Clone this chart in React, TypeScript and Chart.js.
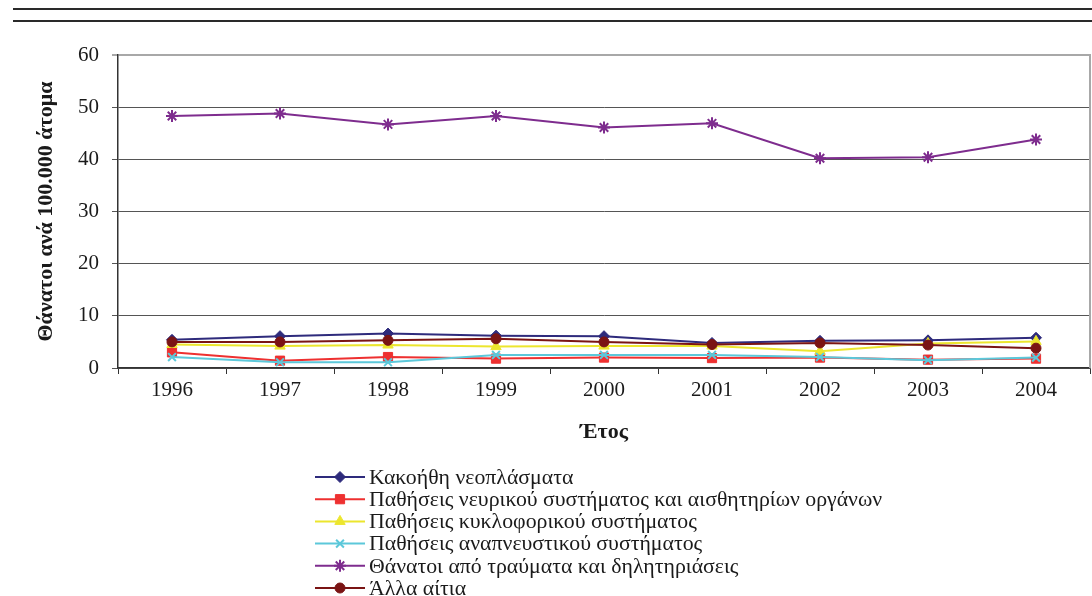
import React, { useEffect, useRef } from "react";
import { Chart, registerables } from "chart.js";
import { drawPoint } from "chart.js/helpers";

Chart.register(...registerables);

const years = ["1996", "1997", "1998", "1999", "2000", "2001", "2002", "2003", "2004"];
const neoplasms = [5.4, 6.1, 6.6, 6.2, 6.1, 4.8, 5.2, 5.3, 5.8];
const nervous = [3.0, 1.4, 2.1, 1.8, 2.0, 1.9, 2.0, 1.6, 1.8];
const circulatory = [4.5, 4.2, 4.4, 4.1, 4.2, 4.2, 3.2, 4.7, 5.1];
const respiratory = [2.1, 1.1, 1.1, 2.5, 2.5, 2.5, 2.1, 1.5, 2.0];
const injuries = [48.3, 48.8, 46.7, 48.3, 46.1, 46.9, 40.2, 40.4, 43.8];
const otherCauses = [5.0, 5.0, 5.3, 5.6, 5.0, 4.5, 4.8, 4.4, 3.8];

const seriesLabels = [
  "Κακοήθη νεοπλάσματα",
  "Παθήσεις νευρικού συστήματος και αισθητηρίων οργάνων",
  "Παθήσεις κυκλοφορικού συστήματος",
  "Παθήσεις αναπνευστικού συστήματος",
  "Θάνατοι από τραύματα και δηλητηριάσεις",
  "Άλλα αίτια",
];
const seriesData = [neoplasms, nervous, circulatory, respiratory, injuries, otherCauses];
const seriesColors = ["#2e2b7c", "#ee3030", "#ece62e", "#5cc8da", "#7e2c8e", "#7a1414"];
const seriesStyles = ["rectRot", "rect", "triangle", "crossRot", "star", "circle"];
const seriesRadius = [5.5, 6.5, 6, 5.5, 6, 5];

const yTitle = "Θάνατοι ανά 100.000 άτομα";
const xTitle = "Έτος";

const FONT = "'Liberation Serif', 'Times New Roman', serif";

const isStroke = (s: string) => s.startsWith("cross") || s === "star";

export default function App() {
  const ref = useRef<HTMLCanvasElement | null>(null);

  useEffect(() => {
    if (!ref.current) return;
    const overlay = {
      id: "overlay",
      afterDraw(chart: any) {
        const ctx = chart.ctx;
        const ca = chart.chartArea;
        ctx.save();
        // right border
        ctx.strokeStyle = "#a8a8a8";
        ctx.lineWidth = 2;
        ctx.beginPath();
        ctx.moveTo(ca.right, ca.top - 1);
        ctx.lineTo(ca.right, ca.bottom);
        ctx.stroke();
        // y title
        ctx.fillStyle = "#1a1a1a";
        ctx.font = `bold 22px ${FONT}`;
        ctx.textAlign = "center";
        ctx.textBaseline = "middle";
        ctx.save();
        ctx.translate(46, (ca.top + ca.bottom) / 2);
        ctx.rotate(-Math.PI / 2);
        ctx.fillText(yTitle, 0, 0);
        ctx.restore();
        // x title
        ctx.fillText(xTitle, (ca.left + ca.right) / 2, 432);
        // legend
        ctx.textAlign = "left";
        for (let i = 0; i < seriesLabels.length; i++) {
          const y = 477 + 22.2 * i;
          ctx.strokeStyle = seriesColors[i];
          ctx.lineWidth = 2;
          ctx.beginPath();
          ctx.moveTo(315, y);
          ctx.lineTo(365, y);
          ctx.stroke();
          ctx.fillStyle = seriesColors[i];
          ctx.strokeStyle = seriesColors[i];
          ctx.lineWidth = isStroke(seriesStyles[i]) ? 2 : 1;
          drawPoint(ctx, { pointStyle: seriesStyles[i], radius: seriesRadius[i], rotation: 0, borderWidth: ctx.lineWidth } as any, 340, y);
          ctx.fillStyle = "#1a1a1a";
          ctx.font = `21.8px ${FONT}`;
          ctx.textBaseline = "middle";
          ctx.fillText(seriesLabels[i], 369, y + 1);
        }
        ctx.restore();
      },
    };

    const chart = new Chart(ref.current, {
      type: "line",
      data: {
        labels: years,
        datasets: seriesData.map((d, i) => ({
          label: seriesLabels[i],
          data: d,
          borderColor: seriesColors[i],
          backgroundColor: seriesColors[i],
          pointBackgroundColor: seriesColors[i],
          pointBorderColor: seriesColors[i],
          pointStyle: seriesStyles[i] as any,
          pointRadius: seriesRadius[i],
          pointBorderWidth: isStroke(seriesStyles[i]) ? 2 : 1,
          borderWidth: 2,
          tension: 0,
          fill: false,
          order: seriesLabels.length - i,
        })),
      },
      options: {
        animation: false,
        responsive: false,
        devicePixelRatio: 1,
        layout: { padding: { top: 55, right: 2, left: 0, bottom: 0 } },
        plugins: { legend: { display: false }, tooltip: { enabled: false } },
        scales: {
          x: {
            type: "category",
            offset: true,
            grid: { drawOnChartArea: false, offset: true, tickLength: 6, color: "#333" },
            border: { color: "#333", width: 1.5 },
            ticks: { font: { family: FONT, size: 21 }, color: "#1a1a1a", padding: 4 },
            afterFit: (s: any) => {
              s.height = 596 - 368;
              s.paddingLeft = 0;
              s.paddingRight = 0;
            },
          },
          y: {
            min: 0,
            max: 60,
            ticks: { stepSize: 10, font: { family: FONT, size: 21 }, color: "#1a1a1a", padding: 13 },
            grid: {
              tickLength: 6,
              color: (c: any) => (c.tick && c.tick.value === 60 ? "#a8a8a8" : "#555"),
              lineWidth: (c: any) => (c.tick && c.tick.value === 60 ? 2 : 1),
            },
            border: { color: "#333", width: 1.5 },
            afterFit: (s: any) => {
              s.width = 118;
              s.paddingTop = 0;
              s.paddingBottom = 0;
            },
          },
        },
      },
      plugins: [overlay],
    });
    return () => chart.destroy();
  }, []);

  return (
    <div style={{ position: "absolute", left: 0, top: 0, width: 1092, height: 596, background: "#fff", overflow: "hidden" }}>
      <div style={{ position: "absolute", left: 13, right: 0, top: 8, height: 2, background: "#2a2a2a" }} />
      <div style={{ position: "absolute", left: 13, right: 0, top: 20, height: 2, background: "#2a2a2a" }} />
      <canvas ref={ref} width={1098} height={596} style={{ position: "absolute", left: 0, top: 0 }} />
    </div>
  );
}
